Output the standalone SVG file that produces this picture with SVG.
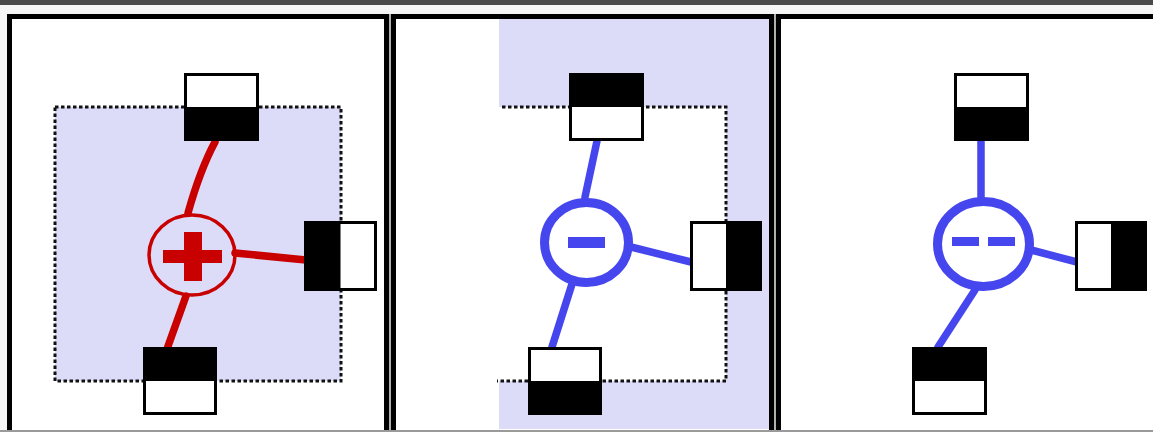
<svg xmlns="http://www.w3.org/2000/svg" width="1153" height="432" viewBox="0 0 1153 432">
<style>
.panel{fill:#fff;stroke:#000;stroke-width:5}
.box{fill:#fff;stroke:#000;stroke-width:3}
.half{fill:#000}
.dot{fill:none;stroke:#111;stroke-width:3;stroke-dasharray:3.5 2.5}
.lav{fill:#dcdcf8}
.red{stroke:#c80000;stroke-width:7.5;stroke-linecap:round;fill:none}
.blue{stroke:#4646ee;stroke-width:7.5;stroke-linecap:round;fill:none}
</style>
<rect x="0" y="0" width="1153" height="432" fill="#f6f6f6"/>
<rect x="0" y="0" width="1153" height="5" fill="#4a4a4a"/>
<rect x="389" y="14" width="2" height="418" fill="#b0b0b0"/>
<rect x="774" y="14" width="2" height="418" fill="#b0b0b0"/>

<g id="panel1">
  <rect class="panel" x="9.5" y="16.5" width="377" height="430"/>
  <rect class="lav" x="55" y="107" width="286" height="274"/>
  <rect class="dot" x="55" y="107" width="286" height="274"/>
</g>
<g id="panel2">
  <rect class="panel" x="393.5" y="16.5" width="378" height="430"/>
  <path class="lav" fill-rule="evenodd" d="M499 19 H769 V429 H499 Z M499 107 V381 H726 V107 Z"/>
  <path class="dot" d="M502 107 H726 V381 H497"/>
</g>
<g id="panel3">
  <rect class="panel" x="778.5" y="16.5" width="400" height="430"/>
</g>

<g id="connectors">
  <path class="red" d="M215 142 Q200 170 188 213"/>
  <path class="red" d="M235 253 L306 260"/>
  <path class="red" d="M186 296 L167 349"/>
  <path class="blue" d="M597 141 L585 197"/>
  <path class="blue" d="M631 247 L691 262"/>
  <path class="blue" d="M572 284 L552 347"/>
  <path class="blue" d="M981 140 L981 197"/>
  <path class="blue" d="M1031 250 L1077 262"/>
  <path class="blue" d="M975 290 L938 347"/>
</g>

<g id="node-plus">
  <ellipse cx="192" cy="255" rx="43" ry="40" fill="none" stroke="#c80000" stroke-width="3.5"/>
  <rect x="163" y="250" width="59" height="13" fill="#c80000"/>
  <rect x="184" y="232" width="18" height="49" fill="#c80000"/>
</g>
<g id="node-minus">
  <ellipse cx="586.5" cy="242.5" rx="42" ry="40" fill="#fff" stroke="#4646ee" stroke-width="9"/>
  <rect x="568" y="237" width="37" height="11" fill="#4646ee"/>
</g>
<g id="node-dashes">
  <ellipse cx="983.5" cy="244" rx="46" ry="42.5" fill="#fff" stroke="#4646ee" stroke-width="9"/>
  <rect x="952" y="237" width="27" height="9" fill="#4646ee"/>
  <rect x="988" y="237" width="27" height="9" fill="#4646ee"/>
</g>

<g id="p1-top"><rect class="box" x="185.5" y="74.5" width="72" height="65"/><rect class="half" x="185.5" y="107" width="72" height="32.5"/></g>
<g id="p1-right"><rect class="box" x="305.5" y="222.5" width="70" height="67"/><rect class="half" x="305.5" y="222.5" width="35" height="67"/></g>
<g id="p1-bottom"><rect class="box" x="144.5" y="348.5" width="71" height="65"/><rect class="half" x="144.5" y="348.5" width="71" height="32.5"/></g>

<g id="p2-top"><rect class="box" x="570.5" y="74.5" width="72" height="65"/><rect class="half" x="570.5" y="74.5" width="72" height="32.5"/></g>
<g id="p2-right"><rect class="box" x="691.5" y="222.5" width="69" height="67"/><rect class="half" x="726" y="222.5" width="34.5" height="67"/></g>
<g id="p2-bottom"><rect class="box" x="529.5" y="348.5" width="71" height="65"/><rect class="half" x="529.5" y="381" width="71" height="32.5"/></g>

<g id="p3-top"><rect class="box" x="955.5" y="74.5" width="72" height="65"/><rect class="half" x="955.5" y="107" width="72" height="32.5"/></g>
<g id="p3-right"><rect class="box" x="1076.5" y="222.5" width="69" height="67"/><rect class="half" x="1111" y="222.5" width="34.5" height="67"/></g>
<g id="p3-bottom"><rect class="box" x="913.5" y="348.5" width="72" height="65"/><rect class="half" x="913.5" y="348.5" width="72" height="32.5"/></g>

<rect x="0" y="430" width="1153" height="2" fill="#9a9a9a"/>
</svg>
